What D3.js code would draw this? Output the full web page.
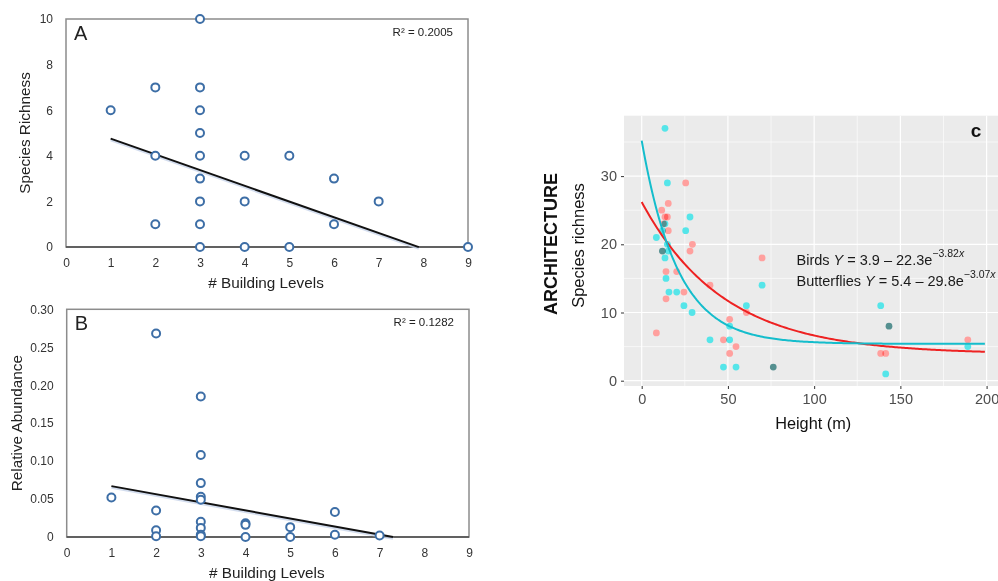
<!DOCTYPE html>
<html><head><meta charset="utf-8">
<script src="https://cdn.jsdelivr.net/npm/d3@7/dist/d3.min.js"></script>
<style>
body{margin:0;background:#fff;}
svg{display:block;font-family:"Liberation Sans",Arial,Helvetica,sans-serif;}
</style></head><body>
<svg id="chart" width="998" height="581"></svg>
<script>
// ---------- Panel A: species richness vs building levels ----------
const levelsA   = [1,2,2,2,3,3,3,3,3,3,3,3,3,4,4,4,5,5,6,6,7,9];
const richnessA = [6,7,4,1,10,7,6,5,4,3,2,1,0,4,2,0,4,0,3,1,2,0];
const fitA = {intercept:5.44, slope:-0.689, from:1, to:7.9};
const r2A = "R² = 0.2005";
// ---------- Panel B: relative abundance vs building levels ----------
const levelsB    = [1,2,2,2,2,3,3,3,3,3,3,3,3,3,4,4,4,5,5,6,6,7];
const abundanceB = [0.052,0.268,0.035,0.009,0.001,0.185,0.108,0.071,0.053,0.049,0.020,0.012,0.003,0.001,0.018,0.016,0.0,0.013,0.0,0.033,0.003,0.002];
const fitB = {intercept:0.0777, slope:-0.01065, from:1, to:7.3};
const r2B = "R² = 0.1282";
const levelTicks = [0,1,2,3,4,5,6,7,8,9];
const richTicks = [0,2,4,6,8,10];
const abunTicks = [0,0.05,0.10,0.15,0.20,0.25,0.30];
const abunLabels = ["0","0.05","0.10","0.15","0.20","0.25","0.30"];
// ---------- Panel C: species richness vs height ----------
const butterflyH = [13.5,14.9,28,25.5,13.5,12,8.5,14.9,12,15.4,13.5,14.1,15.8,20.3,24.5,29.2,69.8,60.7,51,39.6,51,47.4,54.7,76.3,138.6,143.4,141.5,189.1];
const butterflyS = [37,29,24,22,23,22,21,20,19,19,18,15,13,13,11,10,14,11,8,6,6,2,2,2,11,8,1,5];
const birdH = [25.5,15.4,11.6,13.5,14.9,15.4,12.6,29.4,28,12,14.1,20.3,14.1,24.5,39.6,8.5,69.8,60.7,51,47.4,54.7,51,76.3,138.6,141.5,143.4,189.1];
const birdS = [29,26,25,24,24,22,23,20,19,19,16,16,12,13,14,7,18,10,9,6,5,4,2,4,4,8,6];
const birdFit = {a:3.9, b:22.3, k:0.021};
const butterflyFit = {a:5.4, b:29.8, k:0.048};
const heightTicks = [0,50,100,150,200];
const heightMinor = [25,75,125,175];
const cRichTicks = [0,10,20,30];
const cRichMinor = [5,15,25,35];

const svg = d3.select("#chart");

function scatterPanel(opt){
  const g = svg.append("g");
  const x = d3.scaleLinear().domain([0,9]).range(opt.xr);
  const y = d3.scaleLinear().domain(opt.yd).range(opt.yr);
  g.append("rect").attr("x",opt.xr[0]).attr("y",opt.yr[1]).attr("width",opt.xr[1]-opt.xr[0]).attr("height",opt.yr[0]-opt.yr[1])
    .attr("fill","none").attr("stroke","#8c8c8c").attr("stroke-width",1.5);
  g.append("line").attr("x1",opt.xr[0]).attr("x2",opt.xr[1]).attr("y1",opt.yr[0]).attr("y2",opt.yr[0]).attr("stroke","#4a4a4a").attr("stroke-width",1.5);
  const xa = g.append("g").attr("transform",`translate(0,${opt.yr[0]})`)
    .call(d3.axisBottom(x).tickValues(levelTicks).tickSize(0).tickPadding(11).tickFormat(d3.format("d")));
  xa.select(".domain").remove();
  xa.selectAll("text").attr("font-size",12).attr("fill","#333").attr("font-family",null);
  const ya = g.append("g").attr("transform",`translate(${opt.xr[0]},0)`)
    .call(d3.axisLeft(y).tickValues(opt.yt).tickSize(0).tickPadding(13).tickFormat((d,i)=>opt.yl[i]));
  ya.select(".domain").remove();
  ya.selectAll("text").attr("font-size",12).attr("fill","#333").attr("font-family",null);
  const f = opt.fit;
  g.append("line").attr("x1",x(f.from)).attr("y1",y(f.intercept+f.slope*f.from)+1.5)
    .attr("x2",x(f.to)).attr("y2",y(f.intercept+f.slope*f.to)+1.5)
    .attr("stroke","#c9d5ea").attr("stroke-width",2.5).attr("opacity",0.8);
  g.append("line").attr("x1",x(f.from)).attr("y1",y(f.intercept+f.slope*f.from))
    .attr("x2",x(f.to)).attr("y2",y(f.intercept+f.slope*f.to))
    .attr("stroke","#111").attr("stroke-width",2);
  g.selectAll("circle.pt").data(opt.xs.map((v,i)=>[v,opt.ys[i]])).join("circle")
    .attr("class","pt").attr("cx",d=>x(d[0])).attr("cy",d=>y(d[1])).attr("r",4)
    .attr("fill","#fff").attr("stroke","#3d6ea6").attr("stroke-width",2);
  g.append("text").attr("x",opt.xr[0]+8).attr("y",opt.yr[1]+21).attr("font-size",20).attr("fill","#222").text(opt.letter);
  g.append("text").attr("x",opt.xr[1]-15).attr("y",opt.yr[1]+16.5).attr("text-anchor","end").attr("font-size",11.5).attr("fill","#222").text(opt.r2);
  g.append("text").attr("x",(opt.xr[0]+opt.xr[1])/2-1).attr("y",opt.yr[0]+41).attr("text-anchor","middle").attr("font-size",15.3).attr("fill","#222").text("# Building Levels");
  g.append("text").attr("transform",`translate(${opt.ytx},${(opt.yr[0]+opt.yr[1])/2}) rotate(-90)`).attr("text-anchor","middle").attr("font-size",15.3).attr("fill","#222").text(opt.ytitle);
}

scatterPanel({xr:[66,468], yr:[247,19], yd:[0,10], yt:richTicks, yl:richTicks.map(String),
  xs:levelsA, ys:richnessA, fit:fitA, letter:"A", r2:r2A, ytitle:"Species Richness", ytx:30});
scatterPanel({xr:[66.7,469], yr:[537,309.3], yd:[0,0.3], yt:abunTicks, yl:abunLabels,
  xs:levelsB, ys:abundanceB, fit:fitB, letter:"B", r2:r2B, ytitle:"Relative Abundance", ytx:22});

// ---------- Panel C ----------
const gc = svg.append("g");
const cx = d3.scaleLinear().domain([0,200]).range([641.7,986.6]);
const cy = d3.scaleLinear().domain([0,30]).range([380.7,176.1]);
const P = {l:624, r:998, t:115.7, b:386};
gc.append("rect").attr("x",P.l).attr("y",P.t).attr("width",P.r-P.l).attr("height",P.b-P.t).attr("fill","#ebebeb");
svg.append("clipPath").attr("id","cclip").append("rect").attr("x",P.l).attr("y",P.t).attr("width",P.r-P.l).attr("height",P.b-P.t);
const grid = gc.append("g");
grid.selectAll("line.vmin").data(heightMinor).join("line").attr("x1",d=>cx(d)).attr("x2",d=>cx(d)).attr("y1",P.t).attr("y2",P.b).attr("stroke","#fff").attr("stroke-width",0.6);
grid.selectAll("line.hmin").data(cRichMinor).join("line").attr("x1",P.l).attr("x2",P.r).attr("y1",d=>cy(d)).attr("y2",d=>cy(d)).attr("stroke","#fff").attr("stroke-width",0.6);
grid.selectAll("line.vmaj").data(heightTicks).join("line").attr("x1",d=>cx(d)).attr("x2",d=>cx(d)).attr("y1",P.t).attr("y2",P.b).attr("stroke","#fff").attr("stroke-width",1.2);
grid.selectAll("line.hmaj").data(cRichTicks).join("line").attr("x1",P.l).attr("x2",P.r).attr("y1",d=>cy(d)).attr("y2",d=>cy(d)).attr("stroke","#fff").attr("stroke-width",1.2);

const pts = gc.append("g").attr("clip-path","url(#cclip)").style("isolation","isolate");
pts.selectAll("circle.bird").data(birdH.map((h,i)=>[h,birdS[i]])).join("circle").attr("class","bird")
  .attr("cx",d=>cx(d[0])).attr("cy",d=>cy(d[1])).attr("r",3.4).attr("fill","#ffa09e").style("mix-blend-mode","multiply");
pts.selectAll("circle.bfly").data(butterflyH.map((h,i)=>[h,butterflyS[i]])).join("circle").attr("class","bfly")
  .attr("cx",d=>cx(d[0])).attr("cy",d=>cy(d[1])).attr("r",3.4).attr("fill","#55e5e9").style("mix-blend-mode","multiply");

const xs = d3.range(0,199.01,1);
const line = d3.line().x(d=>cx(d[0])).y(d=>cy(d[1]));
gc.append("path").attr("d",line(xs.map(v=>[v,birdFit.a+birdFit.b*Math.exp(-birdFit.k*v)]))).attr("fill","none").attr("stroke","#ee2222").attr("stroke-width",2);
gc.append("path").attr("d",line(xs.map(v=>[v,butterflyFit.a+butterflyFit.b*Math.exp(-butterflyFit.k*v)]))).attr("fill","none").attr("stroke","#14bdcc").attr("stroke-width",2);

const cxa = gc.append("g").attr("transform",`translate(0,${P.b})`).call(d3.axisBottom(cx).tickValues(heightTicks).tickSize(3).tickPadding(5));
cxa.select(".domain").remove();
cxa.selectAll("line").attr("stroke","#333");
cxa.selectAll("text").attr("font-size",14.5).attr("fill","#4d4d4d").attr("font-family",null);
const cya = gc.append("g").attr("transform",`translate(${P.l},0)`).call(d3.axisLeft(cy).tickValues(cRichTicks).tickSize(3).tickPadding(4));
cya.select(".domain").remove();
cya.selectAll("line").attr("stroke","#333");
cya.selectAll("text").attr("font-size",14.5).attr("fill","#4d4d4d").attr("font-family",null);

gc.append("text").attr("x",cx(100)-1).attr("y",428.5).attr("text-anchor","middle").attr("font-size",16.3).attr("fill","#111").text("Height (m)");
gc.append("text").attr("transform",`translate(584,245.5) rotate(-90)`).attr("text-anchor","middle").attr("font-size",16.5).attr("fill","#111").text("Species richness");
gc.append("text").attr("transform",`translate(556.5,244) rotate(-90)`).attr("text-anchor","middle").attr("font-size",18).attr("font-weight","bold").attr("fill","#111").text("ARCHITECTURE");
gc.append("text").attr("x",976).attr("y",137).attr("text-anchor","middle").attr("font-size",19).attr("font-weight","bold").attr("fill","#111").text("c");

function eqn(yb, name, a, b, k){
  const t = gc.append("text").attr("x",796.5).attr("y",yb).attr("font-size",14.5).attr("fill","#1a1a1a");
  t.append("tspan").text(name+" ");
  t.append("tspan").attr("font-style","italic").text("Y");
  t.append("tspan").text(" = "+a+" – "+b+"e");
  t.append("tspan").attr("dy",-8).attr("font-size",10.5).text("−"+k);
  t.append("tspan").attr("font-size",10.5).attr("font-style","italic").text("x");
}
eqn(265, "Birds", "3.9", "22.3", "3.82");
eqn(285.5, "Butterflies", "5.4", "29.8", "3.07");
</script></body></html>
